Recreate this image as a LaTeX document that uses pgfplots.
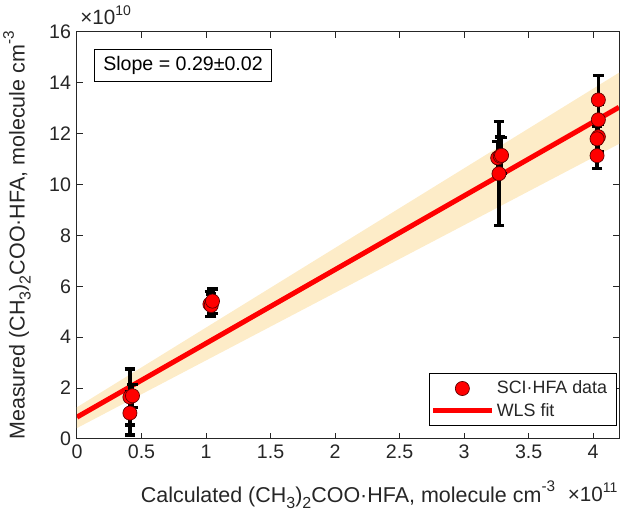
\documentclass[border=0pt]{standalone}
\usepackage{fontspec}
\setmainfont{Liberation Sans}
\usepackage{pgfplots}
\pgfplotsset{compat=1.18}
\definecolor{tgray}{RGB}{38,38,38}
\definecolor{band}{RGB}{253,236,200}
\definecolor{medge}{RGB}{90,0,0}
\newcommand{\lsub}[1]{\raisebox{-0.28em}{\fontsize{12}{14}\selectfont #1}}
\newcommand{\lsup}[1]{\raisebox{0.5em}{\fontsize{11.5}{14}\selectfont #1}}
\newcommand{\tsup}[1]{\raisebox{0.45em}{\fontsize{10.5}{13}\selectfont #1}}
\pgfplotsset{
  legmark/.style={legend image code/.code={\draw[draw=none] (0pt,-1pt) rectangle (44pt,1pt);\path[##1] plot coordinates {(22pt,0)};}},
  legline/.style={legend image code/.code={\draw[##1] (0pt,0) -- (44pt,0);}},
}
\begin{document}
\begin{tikzpicture}
\begin{axis}[
  scale only axis,
  width=406.5pt, height=305.25pt,
  xmin=0, xmax=4.2, ymin=0, ymax=16,
  xtick={0,0.5,1,1.5,2,2.5,3,3.5,4},
  ytick={0,2,4,6,8,10,12,14,16},
  scaled ticks=false,
  /pgf/number format/assume math mode=true,
  tick align=inside,
  major tick length=4.5pt,
  axis line style={tgray, line width=0.75pt},
  every tick/.style={tgray, line width=0.75pt},
  tick label style={font=\fontsize{14.7}{17}\selectfont, text=tgray},
  xticklabel style={yshift=-1pt},
  yticklabel style={xshift=-1pt},
  label style={font=\fontsize{16.1}{19}\selectfont, text=tgray},
  xlabel={Calculated (CH\lsub{3})\lsub{2}COO·HFA, molecule cm\lsup{-3}},
  ylabel={Measured (CH\lsub{3})\lsub{2}COO·HFA, molecule cm\lsup{-3}},
  xlabel style={at={(axis description cs:0.5,-0.155)}, anchor=base},
  ylabel style={at={(axis description cs:-0.1107,0.5)}, anchor=center},
  legend style={at={(0.996,0.032)}, anchor=south east, draw=black, line width=0.6pt,
    font=\fontsize{13.4}{15}\selectfont, text=tgray, inner xsep=1pt, inner ysep=3.5pt,
    row sep=1.5pt, /tikz/every even column/.append style={column sep=6pt}},
  legend cell align=left,
  clip mode=individual,
]
% confidence band
\addplot[draw=none, fill=band, forget plot] coordinates {
  (0,1.25) (4.2,14.40) (4.2,11.60) (0,0.43)} -- cycle;
% WLS fit
\addplot[red, line width=3.75pt, forget plot] coordinates {(0,0.86) (4.2,13.04)};
% data
\addplot[forget plot, only marks, mark=*, mark size=5.3pt,
  mark options={fill=red, draw=medge, line width=0.5pt},
  error bars/.cd, y dir=both, y explicit,
  error bar style={black, solid, line width=2.4pt},
  error mark options={black, solid, line width=2.4pt, rotate=90, mark size=3.9pt}]
  coordinates {
  (0.41,1.02) +- (0,0.86)
  (0.41,1.65) +- (0,1.10)
  (0.43,1.70) +- (0,0.45)
  (1.03,5.30) +- (0,0.50)
  (1.04,5.25) +- (0,0.45)
  (1.05,5.42) +- (0,0.48)
  (3.27,10.43) +- (0,2.04)
  (3.26,11.05) +- (0,0.65)
  (3.28,11.12) +- (0,0.75)
  (3.29,11.15) +- (0,0.70)
  (4.04,13.33) +- (0,0.97)
  (4.04,12.55) +- (0,0.60)
  (4.04,11.88) +- (0,0.60)
  (4.03,11.80) +- (0,0.50)
  (4.03,11.14) +- (0,0.50)
  };
\addlegendimage{only marks, mark=*, mark size=5.3pt, mark options={fill=red, draw=medge, line width=0.5pt}, legmark}
\addlegendentry{SCI·HFA data\hspace*{4pt}}
\addlegendimage{red, line width=3.75pt, legline}
\addlegendentry{WLS fit}
\node[draw=black, line width=0.6pt, fill=white, font=\fontsize{14.7}{17}\selectfont, text=black,
  inner xsep=6.5pt, minimum height=24pt]
  at (rel axis cs:0.1956,0.919) {Slope = 0.29±0.02};
\node[anchor=base west, font=\fontsize{15.5}{17}\selectfont, text=tgray, inner sep=0pt]
  at (rel axis cs:0,1) [xshift=2.25pt, yshift=5.25pt] {×10\tsup{10}};
\node[anchor=base east, font=\fontsize{15.5}{17}\selectfont, text=tgray, inner sep=0pt]
  at (rel axis cs:1,0) [xshift=-1pt, yshift=-47.25pt] {×10\tsup{11}};
\coordinate (SW) at (rel axis cs:0,0);
\coordinate (NE) at (rel axis cs:1,1);
\end{axis}
\pgfresetboundingbox
\path ([xshift=-57.75pt, yshift=-60.75pt]SW) rectangle ([xshift=6.75pt, yshift=24pt]NE);
\end{tikzpicture}
\end{document}
